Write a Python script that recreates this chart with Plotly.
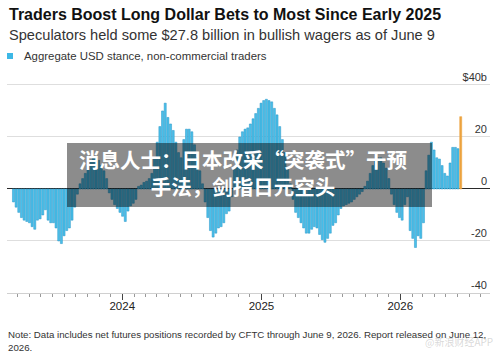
import pandas as pd
import plotly.graph_objects as go

# ---- data ----
start_date = "2023-03-21"
end_date = "2026-06-09"
values = [
    -5, -7, -9, -11, -12, -12.5, -13, -14.5, -15.5, -12,
    -11.5, -10, -8, -12, -13, -13, -15, -20, -21, -18,
    -16, -15, -12, -7, -2, 2, 4, 6, 9, 11,
    12, 12.5, 11, 9, 7, 4, -1.5, -4, -6, -7.5,
    -9, -10.5, -12.5, -8.5, -6.5, -5.5, -4, 1, 1.5, 2.5,
    3, 4, 6, 12, 18, 24, 30, 33, 27.5, 25,
    22.5, 18, 14, 12, 19, 23, 23, 22, 17, 12,
    7, 2, -5, -11, -16, -18.5, -17, -15, -14.5, -13,
    -9.5, -8.5, -3, 8, 15, 20, 22, 23, 23.5, 25,
    27, 29, 31, 33, 34, 34.5, 34, 33.5, 31, 28.5,
    24, 19, 14, 8, 2, -4, -9, -11, -13, -15,
    -17, -17, -15.5, -14.5, -15, -17.5, -19.5, -20.5, -19, -17,
    -14, -13, -10, -7.5, -6.5, -6, -5.5, -5, -4, -3,
    -2, -1, 1, 3, 6, 9, 11, 12, 12, 10,
    8, 4, -2, -6, -9, -11, -12, -6, -3, -16,
    -19, -22.5, -18, -19, -13, 7, 13, 18, 15, 12,
    11.5, 9, 6, 5, 10, 16, 16, 15.5, 27.8,
]
dates = pd.date_range(start_date, end_date, freq="7D")
y_tickvals = [-40, -20, 0, 20, 40]
y_ticktext = ["-40", "-20", "0", "20", "$40b"]
x_tickvals = ["2024-01-01", "2025-01-01", "2026-01-01"]

title = "Traders Boost Long Dollar Bets to Most Since Early 2025"
subtitle = "Speculators held some $27.8 billion in bullish wagers as of June 9"
legend_label = "Aggregate USD stance, non-commercial traders"
note = ("Note: Data includes net futures positions recorded by CFTC through June 9, 2026. "
        "Report released on June 12,<br>2026.")
overlay_text = "消息人士：日本改采“突袭式”干预<br>手法，剑指日元空头"

BLUE = "#4ac0ea"
BLUE_EDGE = "#2895c6"
ORANGE = "#eda33f"

n = len(values)
colors = [BLUE] * (n - 1) + [ORANGE]
edges = [BLUE_EDGE] * (n - 1) + [ORANGE]

FONT = "Liberation Sans, Arial, sans-serif"

fig = go.Figure()
fig.add_trace(go.Bar(
    x=dates[:n], y=values,
    width=5.4 * 86400000,
    marker=dict(color=colors, line=dict(color=edges, width=0.5)),
    showlegend=False,
))

W, H = 500, 352
ml, mr, mt, mb = 7, 10, 67, 59
pw = W - ml - mr
ph = H - mt - mb

def px(x):
    return (x - ml) / pw

def py(y):
    return (H - mb - y) / ph

fig.update_layout(
    width=W, height=H,
    margin=dict(l=ml, r=mr, t=mt, b=mb, pad=0),
    plot_bgcolor="white", paper_bgcolor="white",
    font=dict(family=FONT, color="#333", size=11),
    bargap=0.1,
    xaxis=dict(
        type="date",
        range=["2023-03-04", "2026-08-25"],
        tickvals=x_tickvals, tickformat="%Y",
        ticks="outside", ticklen=6, tickcolor="#444", tickwidth=1,
        ticklabelstandoff=-4,
        showgrid=False, showline=True, linecolor="#d0d0d0", linewidth=1,
        zeroline=False,
        tickfont=dict(size=11.5, color="#222"),
        minor=dict(ticks="outside", ticklen=3, tickcolor="#999",
                   dtick="M1", tick0="2024-01-01", showgrid=False),
    ),
    yaxis=dict(
        range=[-40, 46.9], side="right",
        tickvals=y_tickvals, ticktext=y_ticktext,
        ticklabelposition="inside top", ticks="",
        ticklabeloverflow="allow",
        showgrid=True, gridcolor="#dedede", gridwidth=1,
        zeroline=True, zerolinecolor="#2a2a2a", zerolinewidth=1,
        showline=False,
        tickfont=dict(size=11, color="#333"),
    ),
)

annotations = [
    dict(text="<b>" + title + "</b>", x=px(7), y=py(14.5), xref="paper", yref="paper",
         xanchor="left", yanchor="middle", showarrow=False,
         font=dict(size=16, color="#111", family=FONT)),
    dict(text=subtitle, x=px(7), y=py(35), xref="paper", yref="paper",
         xanchor="left", yanchor="middle", showarrow=False,
         font=dict(size=14.6, color="#333", family=FONT)),
    dict(text=legend_label, x=px(22), y=py(56), xref="paper", yref="paper",
         xanchor="left", yanchor="middle", showarrow=False,
         font=dict(size=11.4, color="#333", family=FONT)),
    dict(text=note, x=px(6), y=py(326.5), xref="paper", yref="paper",
         xanchor="left", yanchor="top", align="left", showarrow=False,
         font=dict(size=9.7, color="#333", family=FONT)),
    dict(text="<b>" + overlay_text + "</b>", x=px(243), y=py(172.5), xref="paper", yref="paper",
         xanchor="center", yanchor="middle", align="center", showarrow=False,
         font=dict(size=20.5, color="white", family="Noto Sans CJK SC")),
    dict(text="@新浪财经APP", x=px(495), y=py(341), xref="paper", yref="paper",
         xanchor="right", yanchor="middle", showarrow=False,
         font=dict(size=10, color="rgba(170,170,170,0.45)", family="Noto Sans CJK SC")),
]
fig.update_layout(annotations=annotations)

fig.add_shape(type="rect", xref="paper", yref="paper",
              x0=px(7), x1=px(13), y0=py(59), y1=py(53),
              fillcolor="#3db8e6", line=dict(width=0))
fig.add_shape(type="rect", xref="paper", yref="paper",
              x0=px(67), x1=px(432), y0=py(207), y1=py(143),
              fillcolor="rgba(0,0,0,0.45)", line=dict(width=0), layer="above")

fig.write_html("out.html")
